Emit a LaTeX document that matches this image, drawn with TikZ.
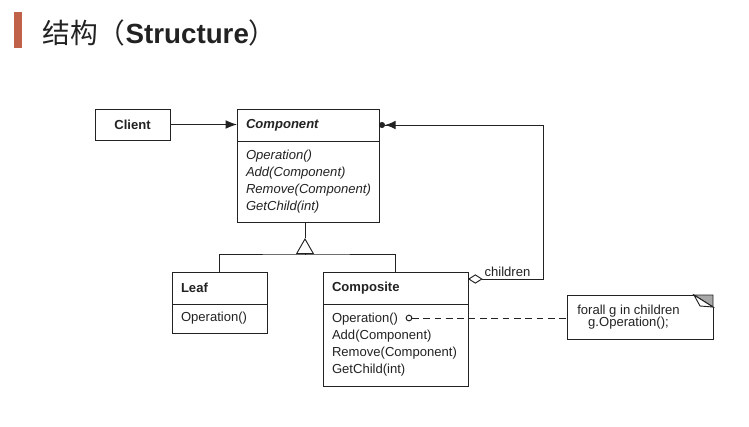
\documentclass[tikz,border=0pt]{standalone}
\usepackage{fontspec}
\setmainfont{Liberation Sans}
\newfontfamily\cjk{Noto Sans CJK SC}
\usetikzlibrary{arrows.meta}

\definecolor{barred}{HTML}{C0614A}
\definecolor{inkgray}{HTML}{222222}
\definecolor{foldgray}{HTML}{A8A8A8}

\newcommand\umlsize{\fontsize{9.8}{12.75}\selectfont}

\tikzset{
  umlhead/.style={draw, anchor=north west, minimum height=24pt, inner xsep=6.75pt,
    inner ysep=0pt, outer sep=0pt, align=left, font=\umlsize\bfseries},
  umlbody/.style={draw, anchor=north west, inner xsep=6.75pt, inner ysep=0pt,
    outer sep=0pt, align=left, font=\umlsize},
  noteline/.style={line width=0.75pt, dash pattern=on 5pt off 3.5pt},
}

\begin{document}
\begin{tikzpicture}[x=0.75pt, y=-0.75pt, line width=0.7pt, draw=inkgray, text=inkgray]
        \useasboundingbox (0,0) rectangle (749,426);

        % Title
        \fill[barred] (14,12) rectangle (22,48);
        \node[anchor=base west, inner sep=0pt, font=\fontsize{20.8}{24}\selectfont] (title) at (42,43)
            {{\cjk 结构（}{\bfseries Structure}{\cjk ）}};

        % Classes
        \node[umlhead, anchor=center, align=center, minimum width=56.25pt, minimum height=23.25pt] (client) at (132.5,124.5) {Client};

        \node[umlhead, text width=93pt, font=\umlsize\bfseries\itshape] (compHead) at (237,109) {Component};
        \node[umlbody, text width=93pt, minimum height=60.75pt, font=\umlsize\itshape] (compBody) at (compHead.south west)
            {Operation()\\Add(Component)\\Remove(Component)\\GetChild(int)};

        \node[umlhead, text width=57.75pt] (leafHead) at (172,272) {Leaf};
        \node[umlbody, text width=57.75pt, minimum height=21.75pt] (leafBody) at (leafHead.south west) {Operation()};

        \node[umlhead, text width=95.25pt] (siteHead) at (323,272) {Composite};
        \node[umlbody, text width=95.25pt, minimum height=61.5pt] (siteBody) at (siteHead.south west)
            {Operation()\\Add(Component)\\Remove(Component)\\GetChild(int)};

        % Client uses Component
        \draw[-{Latex[length=8.5pt,width=6.5pt]}] (client.east) -- (client.east -| compHead.west);

        % Inheritance
        \coordinate (apex) at ([xshift=-2.25pt,yshift=-12pt]compBody.south);
        \coordinate (fork) at ([xshift=-2.25pt,yshift=-24pt]compBody.south);
        \draw (compBody.south -| apex) -- (apex);
        \draw[-{Triangle[open,length=12pt,width=13.5pt]}] (fork) -- (apex);
        \draw (leafHead.north) |- (fork) -| (siteHead.north);

        % Children aggregation
        \coordinate (siteTop) at ([yshift=-5.25pt]siteHead.north east);
        \coordinate (turn) at ([xshift=56.25pt]siteTop);
        \draw[{Diamond[open,length=11pt,width=7pt]}-{Latex[length=8pt,width=6.5pt]Circle[length=4.5pt]}]
            (siteTop) -- (turn) |- (compHead.east);
        \node[font=\umlsize, inner sep=0pt] (childLbl) at (507.5,272) {children};

        % Note
        \draw (694,295) -- (567,295) -- (567,339) -- (713,339) -- (713,307);
        \filldraw[fill=foldgray] (694,295) -- (713,295) -- (713,307) -- cycle;
        \filldraw[fill=white] (694,295) -- (700,306) -- (713,307) -- cycle;
        \node[align=center, inner sep=0pt, font=\fontsize{9.8}{9.5}\selectfont] (noteText) at (628.5,317)
            {forall g in children\\g.Operation();};
        \coordinate (noteEdge) at (567,318);
        \coordinate (opDot) at ([shift={(62pt,-10.5pt)}]siteBody.north west);
        \draw[noteline, {Circle[open,length=5pt]}-] (opDot) -- (noteEdge);
\end{tikzpicture}
\end{document}
